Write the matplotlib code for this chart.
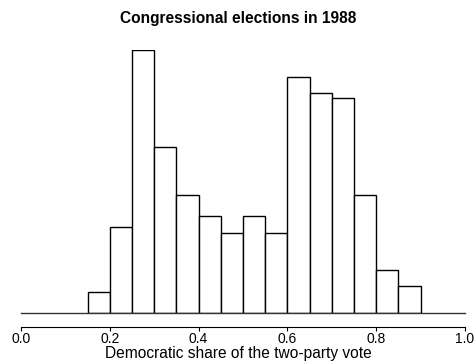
import numpy as np
import matplotlib.pyplot as plt

plt.rcParams['font.family'] = ['Liberation Sans', 'DejaVu Sans']

# bin edges (width 0.05) and counts
bin_edges = [0.15, 0.20, 0.25, 0.30, 0.35, 0.40, 0.45, 0.50, 0.55,
             0.60, 0.65, 0.70, 0.75, 0.80, 0.85, 0.90]
counts = [4, 16, 49, 31, 22, 18, 15, 18, 15, 44, 41, 40, 22, 8, 5]
xticks = [0.0, 0.2, 0.4, 0.6, 0.8, 1.0]
tick_labels = ['0.0', '0.2', '0.4', '0.6', '0.8', '1.0']

fig = plt.figure(figsize=(4.77, 3.63), dpi=100)
ax = fig.add_axes([21 / 477, (363 - 313.3) / 363, 444 / 477, 263.6 / 363])

ax.hist(bin_edges[:-1], bins=bin_edges, weights=counts,
        facecolor='white', edgecolor='black', linewidth=1.0)
ax.axhline(0, xmin=0, xmax=1, color='#333333', linewidth=1.0, clip_on=False)

ax.set_xlim(0, 1)
ax.set_ylim(0, 49)
ax.set_xticks(xticks)
ax.set_xticklabels(tick_labels, fontsize=10.8)
ax.tick_params(axis='x', direction='out', length=3, width=0.8, pad=0.5)
ax.set_yticks([])
for s in ['left', 'top', 'right']:
    ax.spines[s].set_visible(False)
ax.spines['bottom'].set_position(('outward', 10))
ax.spines['bottom'].set_linewidth(0.8)

fig.text(0.5, 1 - 353.5 / 363, 'Democratic share of the two-party vote',
         ha='center', va='center', fontsize=11.2)
fig.text(0.5, 1 - 19 / 363, 'Congressional elections in 1988',
         ha='center', va='center', fontsize=11.2, fontweight='bold')

plt.savefig('out.png', dpi=100)
